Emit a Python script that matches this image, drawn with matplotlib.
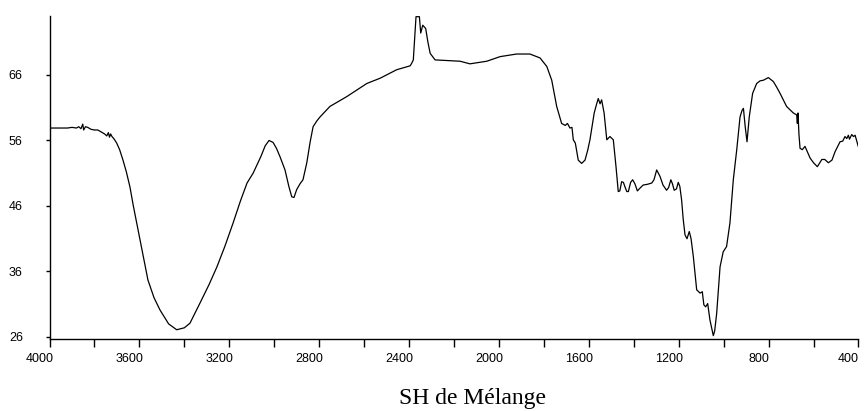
import numpy as np
import matplotlib.pyplot as plt
from matplotlib.transforms import ScaledTranslation

# IR spectrum (wavenumber cm-1, transmittance %)
wavenumber = [4000, 3960, 3920, 3900, 3880, 3870, 3860, 3852, 3848, 3840, 3830, 3815,
              3800, 3785, 3770, 3755, 3745, 3738, 3733, 3728, 3722, 3712, 3701, 3688,
              3673, 3658, 3642, 3628, 3597, 3562, 3535, 3508, 3470, 3434, 3400, 3375,
              3330, 3290, 3255, 3220, 3183, 3150, 3121, 3094, 3060, 3040, 3023, 3005,
              2990, 2974, 2952, 2935, 2922, 2912, 2900, 2885, 2872, 2855, 2840, 2827,
              2810, 2796, 2752, 2677, 2588, 2529, 2455, 2395, 2388, 2381, 2375, 2369,
              2354, 2348, 2339, 2326, 2316, 2306, 2284, 2232, 2173, 2129, 2054, 1995,
              1921, 1862, 1817, 1787, 1765, 1743, 1721, 1705, 1695, 1684, 1675, 1669,
              1660, 1647, 1632, 1617, 1605, 1595, 1576, 1565, 1558, 1550, 1543, 1532,
              1520, 1506, 1491, 1479, 1469, 1462, 1454, 1446, 1439, 1431, 1424, 1414,
              1405, 1395, 1384, 1370, 1358, 1340, 1320, 1310, 1298, 1283, 1270, 1254,
              1245, 1235, 1228, 1220, 1210, 1202, 1195, 1187, 1180, 1172, 1163, 1153,
              1145, 1135, 1120, 1105, 1095, 1088, 1080, 1071, 1061, 1052, 1046, 1040,
              1031, 1016, 1002, 987, 972, 957, 942, 927, 918, 912, 904, 896,
              886, 871, 853, 838, 823, 801, 779, 765, 749, 720, 690, 675,
              672, 669, 665, 660, 650, 638, 625, 615, 600, 583, 563, 550,
              534, 518, 504, 482, 470, 460, 452, 445, 440, 430, 422, 415,
              401]
transmittance = [57.9, 57.9, 57.9, 58.0, 57.9, 58.1, 57.8, 58.5, 57.6, 58.1, 58.0, 57.7,
                 57.6, 57.6, 57.3, 57.0, 56.7, 57.2, 56.5, 57.0, 56.6, 56.2, 55.6, 54.6,
                 53.0, 51.2, 48.9, 46.2, 40.8, 34.7, 32.0, 30.1, 28.0, 27.1, 27.4, 28.1,
                 31.2, 34.0, 36.7, 39.8, 43.4, 46.8, 49.5, 51.0, 53.5, 55.2, 56.0, 55.7,
                 54.8, 53.5, 51.5, 49.0, 47.4, 47.3, 48.5, 49.4, 50.0, 52.6, 55.8, 58.1,
                 59.0, 59.6, 61.2, 62.7, 64.7, 65.5, 66.8, 67.4, 67.8, 68.3, 71.5, 74.9,
                 74.9, 72.4, 73.6, 73.1, 71.0, 69.3, 68.3, 68.2, 68.1, 67.7, 68.1, 68.8,
                 69.2, 69.2, 68.6, 67.3, 65.2, 61.2, 58.6, 58.3, 58.6, 57.9, 58.0, 56.1,
                 55.6, 53.0, 52.5, 53.0, 54.5, 56.1, 60.2, 61.6, 62.4, 61.6, 62.2, 60.2,
                 56.1, 56.6, 56.1, 52.0, 48.2, 48.3, 49.7, 49.6, 48.9, 48.2, 48.2, 49.6,
                 50.0, 49.4, 48.3, 48.8, 49.2, 49.3, 49.5, 50.0, 51.5, 50.5, 49.2, 48.4,
                 48.8, 50.0, 49.4, 48.4, 48.6, 49.6, 49.0, 46.9, 44.0, 41.6, 41.0, 42.1,
                 41.0, 38.3, 33.2, 32.7, 32.9, 30.9, 30.6, 31.1, 28.6, 27.2, 26.2, 26.9,
                 29.6, 36.7, 39.0, 39.8, 43.4, 50.0, 54.5, 59.6, 60.6, 60.9, 58.1, 55.8,
                 59.6, 63.2, 64.7, 65.1, 65.2, 65.6, 65.0, 64.2, 63.2, 61.2, 60.2, 59.9,
                 58.6, 60.2, 57.0, 54.8, 54.6, 55.1, 54.1, 53.3, 52.6, 52.0, 53.1, 53.1,
                 52.6, 53.0, 54.3, 55.8, 55.9, 56.6, 56.3, 56.8, 56.2, 56.9, 56.6, 56.8,
                 55.1]

x_ticks = np.arange(4000, 399, -200)
x_labels = [str(t) if t % 400 == 0 else "" for t in x_ticks]
y_ticks = [26, 36, 46, 56, 66]

plt.rcParams['font.family'] = ['Liberation Sans', 'DejaVu Sans']

fig = plt.figure(figsize=(8.64, 4.11), dpi=100)
ax = fig.add_axes([0.0573, 0.176, 0.9363, 0.785])
ax.plot(wavenumber, transmittance, color='black', linewidth=0.9)

ax.set_xlim(4000, 400)
ax.set_ylim(25.74, 75)
ax.spines['top'].set_visible(False)
ax.spines['right'].set_visible(False)
ax.spines['left'].set_linewidth(1.0)
ax.spines['bottom'].set_linewidth(1.0)

ax.set_xticks(x_ticks)
ax.set_xticklabels(x_labels)
ax.set_yticks(y_ticks)
ax.tick_params(axis='x', length=6, width=1.0, pad=4, labelsize=9)
ax.tick_params(axis='y', length=3.2, width=1.0, pad=16, labelsize=9)

shift = ScaledTranslation(-0.1, 0, fig.dpi_scale_trans)
for lab in ax.get_xticklabels():
    lab.set_transform(lab.get_transform() + shift)

fig.text(472.5 / 864, 7 / 411, "SH de Mélange", ha='center', va='baseline',
         fontsize=17, family=['Liberation Serif', 'DejaVu Serif'])

fig.savefig('out.png', dpi=100)
